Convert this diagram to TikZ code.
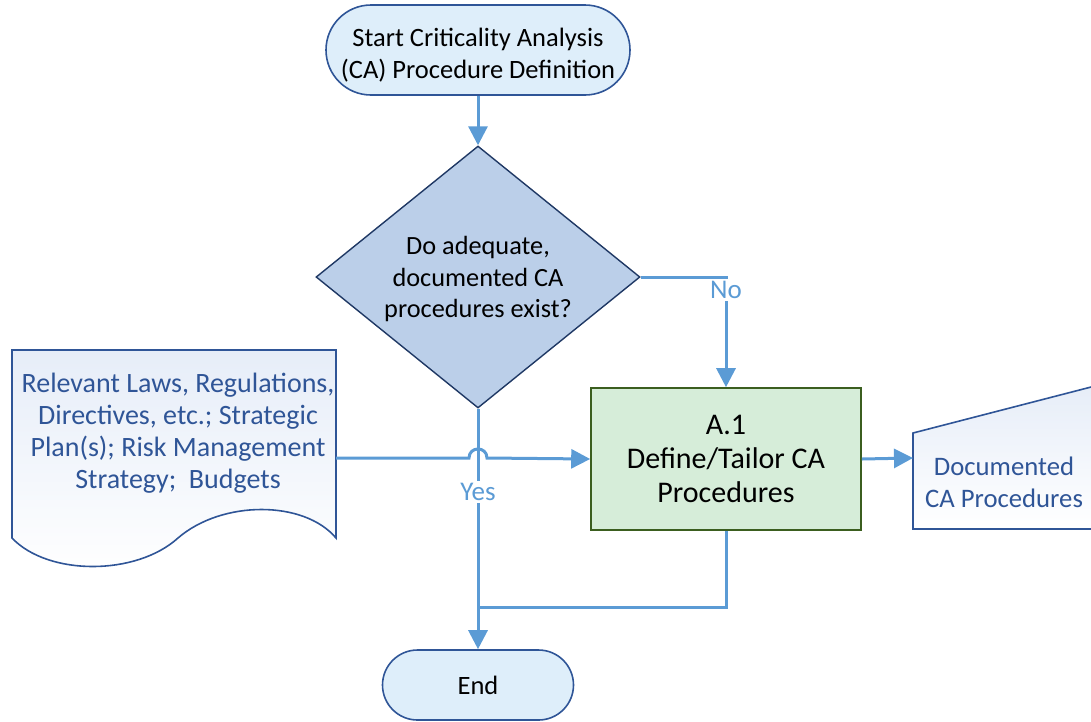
\documentclass[tikz,border=0pt]{standalone}
\usepackage{fontspec}
\setmainfont{Carlito}
\usetikzlibrary{shapes.geometric,arrows.meta,calc}
\definecolor{lineblue}{HTML}{5B9BD5}
\definecolor{termborder}{HTML}{2F5597}
\definecolor{termfill}{HTML}{DEEEFA}
\definecolor{decfill}{HTML}{BBCFE9}
\definecolor{decborder}{HTML}{1F3864}
\definecolor{procfill}{HTML}{D6EDD9}
\definecolor{procborder}{HTML}{3B5E1F}
\definecolor{doctext}{HTML}{2F5597}
\definecolor{docfill}{HTML}{E6EDF8}
\tikzset{
  terminal/.style={draw=termborder, line width=1.6pt, fill=termfill, rectangle, inner sep=0pt, align=center, font=\fontsize{26.5}{32}\selectfont},
  decision/.style={draw=decborder, line width=1.4pt, fill=decfill, diamond, inner sep=0pt, minimum width=324pt, minimum height=262pt},
  plaintxt/.style={align=center, inner sep=0pt},
  process/.style={draw=procborder, line width=1.6pt, fill=procfill, rectangle, minimum width=270pt, minimum height=142pt, align=center, font=\fontsize{30}{34}\selectfont},
  doctxt/.style={text=doctext, align=center},
  docshape/.style={draw=termborder, line width=1.6pt, top color=docfill, bottom color=white},
  conn/.style={draw=lineblue, line width=3pt, -{Triangle[length=19pt,width=19pt]}},
  connplain/.style={draw=lineblue, line width=3pt},
  lbl/.style={text=lineblue, fill=white, inner sep=2pt, font=\fontsize{27}{30}\selectfont}
}
\begin{document}
\begin{tikzpicture}[x=1pt,y=-1pt]
\clip (0,0) rectangle (1091,721);
% start and end terminals
\node[terminal, minimum width=304pt, minimum height=90pt, rounded corners=45pt] (start) at (478,50) {};
\node[plaintxt, font=\fontsize{26.5}{32}\selectfont] (starttxt) at (478,55) {Start Criticality Analysis\\(CA) Procedure Definition};
\node[decision] (dec) at (478,277) {};
\node[plaintxt, font=\fontsize{26.3}{31.5}\selectfont] (dectxt) at (478,279) {Do adequate,\\documented CA\\procedures exist?};
\node[process] (proc) at (726,459) {A.1\\Define/Tailor CA\\Procedures};
\node[terminal, minimum width=191pt, minimum height=70pt, rounded corners=35pt] (endn) at (478,685) {End};
% input document
\path[docshape] (12,350) -- (336,350) -- (336,538) .. controls (304,500) and (222,500) .. (178,538) .. controls (136,576) and (48,576) .. (12,538) -- cycle;
\node[doctxt, font=\fontsize{28}{32}\selectfont] (inp) at (178,433) {Relevant Laws, Regulations,\\Directives, etc.; Strategic\\Plan(s); Risk Management\\Strategy;~ Budgets};
\coordinate (inpE) at (336,458);
% output manual input
\path[docshape] (913,529) -- (913,433) -- (1100,384.7) -- (1100,529) -- cycle;
\node[doctxt, font=\fontsize{26.7}{32}\selectfont] (outp) at (1004,482) {Documented\\CA Procedures};
\coordinate (outW) at (913,458);
% connectors
\draw[conn] (start) -- (dec);
\draw[conn] (dec.east) -| (proc.north);
\coordinate (join) at (478,607);
\draw[connplain] (proc.south) |- (join);
\draw[conn] (dec.south) -- (endn.north);
\draw[conn] (inpE) -- (469,458) .. controls (469,446) and (487,446) .. (487,458) -- (proc.west);
\draw[conn] (proc.east) -- (outW);
% labels
\node[lbl] (nolbl) at (726,290) {No};
\node[lbl] (yeslbl) at (478,492) {Yes};
\end{tikzpicture}
\end{document}
